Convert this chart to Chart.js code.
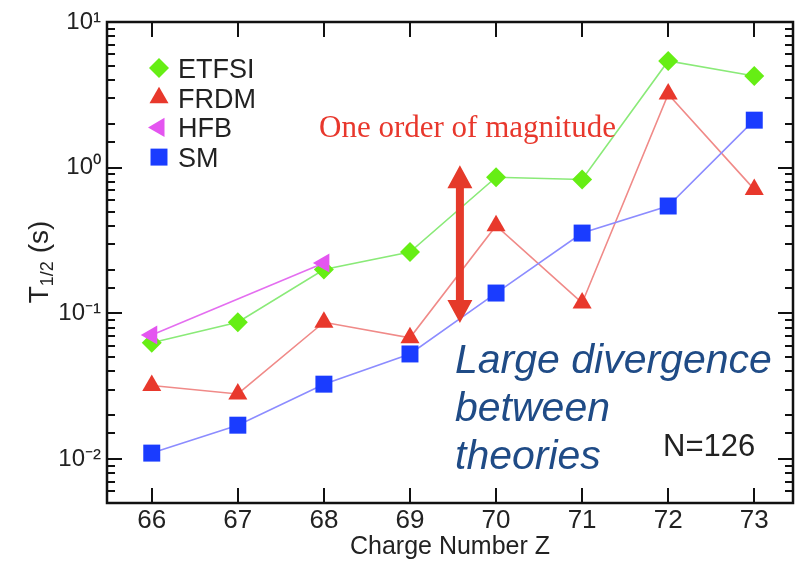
<!DOCTYPE html>
<html>
<head>
<meta charset="utf-8">
<script src="https://cdn.jsdelivr.net/npm/chart.js@4.4.1/dist/chart.umd.min.js"></script>
<style>
  html, body { margin: 0; padding: 0; background: #fff; }
  #wrap { width: 805px; height: 566px; }
</style>
</head>
<body>
<div id="wrap"><canvas id="halfLife" width="805" height="566"></canvas></div>
<script>
// N=126 isotones, charge number Z on the x axis
const chargeZ = [66, 67, 68, 69, 70, 71, 72, 73];
// T1/2 in seconds for each model
const etfsi = [0.063, 0.087, 0.20, 0.264, 0.86, 0.83, 5.4, 4.26];
const frdm  = [0.032, 0.028, 0.087, 0.068, 0.40, 0.118, 3.2, 0.71];
const hfbZ  = [66, 68];
const hfb   = [0.071, 0.222];
const sm    = [0.011, 0.0171, 0.0327, 0.0527, 0.138, 0.356, 0.546, 2.12];

// decade labels for the log axis
const yDecadeExp = [-2, -1, 0, 1];
const yTickLabels = ['10⁻²', '10⁻¹', '10⁰', '10¹'];

// the red double arrow: one decade at Z ~ 69.6
const arrowZ = 69.58;
const arrowTop = 1.04;
const arrowBottom = 0.086;

const SANS = "'Liberation Sans', Arial, sans-serif";
const SERIF = "'Liberation Serif', 'Times New Roman', serif";

function pts(xs, ys) {
  return xs.map((x, i) => ({ x: x, y: ys[i] }));
}

function isDecade(v) {
  const e = Math.log10(v);
  return Math.abs(e - Math.round(e)) < 1e-6;
}

// box frame with inward ticks on all four sides
const framePlugin = {
  id: 'frame',
  afterDatasetsDraw(chart) {
    const { ctx, chartArea: a, scales } = chart;
    const x = scales.x, y = scales.y;
    ctx.save();
    ctx.strokeStyle = '#111';
    ctx.lineWidth = 2;
    ctx.beginPath();
    y.ticks.forEach(t => {
      const py = Math.round(y.getPixelForValue(t.value));
      const len = isDecade(t.value) ? 15 : 8;
      ctx.moveTo(a.left, py); ctx.lineTo(a.left + len, py);
      ctx.moveTo(a.right, py); ctx.lineTo(a.right - len, py);
    });
    x.ticks.forEach(t => {
      const px = Math.round(x.getPixelForValue(t.value));
      ctx.moveTo(px, a.bottom); ctx.lineTo(px, a.bottom - 15);
      ctx.moveTo(px, a.top); ctx.lineTo(px, a.top + 15);
    });
    ctx.stroke();
    ctx.lineWidth = 2.5;
    ctx.strokeRect(a.left, a.top, a.right - a.left, a.bottom - a.top);
    ctx.restore();
  }
};

// y title with subscript, legend, arrow and text notes
const notesPlugin = {
  id: 'notes',
  afterDraw(chart) {
    const { ctx, scales } = chart;
    ctx.save();

    // T_1/2 (s)
    const big = '28px ' + SANS, small = '18px ' + SANS;
    ctx.font = big; const wT = ctx.measureText('T').width; const wS = ctx.measureText(' (s)').width;
    ctx.font = small; const wSub = ctx.measureText('1/2').width;
    const total = wT + wSub + wS;
    ctx.translate(48, 262 + total / 2);
    ctx.rotate(-Math.PI / 2);
    ctx.fillStyle = '#222';
    ctx.textBaseline = 'alphabetic';
    ctx.font = big; ctx.fillText('T', 0, 0);
    ctx.font = small; ctx.fillText('1/2', wT, 5);
    ctx.font = big; ctx.fillText(' (s)', wT + wSub, 0);
    ctx.setTransform(1, 0, 0, 1, 0, 0);

    // legend
    const dsets = chart.data.datasets;
    dsets.forEach((ds, i) => {
      const base = 78 + i * 29.7;
      ctx.fillStyle = ds.pointBackgroundColor;
      ctx.strokeStyle = ds.pointBorderColor;
      Chart.helpers.drawPoint(ctx, {
        pointStyle: ds.pointStyle, rotation: ds.pointRotation || 0,
        radius: ds.pointRadius, borderWidth: 0
      }, 159, base - 10);
      ctx.fillStyle = '#222';
      ctx.font = '27px ' + SANS;
      ctx.textAlign = 'left';
      ctx.fillText(ds.label, 178, base);
    });

    // one order of magnitude arrow
    const ax = scales.x.getPixelForValue(arrowZ);
    const y0 = scales.y.getPixelForValue(arrowTop);
    const y1 = scales.y.getPixelForValue(arrowBottom);
    const hw = 12.5, hh = 23;
    ctx.fillStyle = '#e53a2a';
    ctx.fillRect(ax - 4, y0 + hh - 1, 8, (y1 - y0) - 2 * hh + 2);
    ctx.beginPath();
    ctx.moveTo(ax, y0); ctx.lineTo(ax + hw, y0 + hh); ctx.lineTo(ax - hw, y0 + hh); ctx.closePath();
    ctx.moveTo(ax, y1); ctx.lineTo(ax + hw, y1 - hh); ctx.lineTo(ax - hw, y1 - hh); ctx.closePath();
    ctx.fill();

    ctx.font = '31px ' + SERIF;
    ctx.fillStyle = '#e8372c';
    ctx.fillText('One order of magnitude', 319, 137);

    ctx.font = 'italic 41px ' + SANS;
    ctx.fillStyle = '#1f4b86';
    ctx.fillText('Large divergence', 455, 373);
    ctx.fillText('between', 455, 421);
    ctx.fillText('theories', 455, 469);

    ctx.font = '31px ' + SANS;
    ctx.fillStyle = '#222';
    ctx.fillText('N=126', 663, 456);
    ctx.restore();
  }
};

const ctx = document.getElementById('halfLife').getContext('2d');
const halfLifeChart = new Chart(ctx, {
  type: 'line',
  data: {
    datasets: [{
      label: 'ETFSI',
      data: pts(chargeZ, etfsi),
      borderColor: '#8aea78',
      pointBackgroundColor: '#66ee14',
      pointBorderColor: '#66ee14',
      pointStyle: 'rectRot',
      pointRadius: 10,
      order: 3
    }, {
      label: 'FRDM',
      data: pts(chargeZ, frdm),
      borderColor: '#f08a88',
      pointBackgroundColor: '#e8382c',
      pointBorderColor: '#e8382c',
      pointStyle: 'triangle',
      pointRadius: 11,
      order: 2
    }, {
      label: 'HFB',
      data: pts(hfbZ, hfb),
      borderColor: '#e46ef0',
      pointBackgroundColor: '#e455f0',
      pointBorderColor: '#e455f0',
      pointStyle: 'triangle',
      pointRotation: -90,
      pointRadius: 11,
      order: 0
    }, {
      label: 'SM',
      data: pts(chargeZ, sm),
      borderColor: '#8c8cff',
      pointBackgroundColor: '#1a3cff',
      pointBorderColor: '#1a3cff',
      pointStyle: 'rect',
      pointRadius: 12,
      order: 1
    }]
  },
  options: {
    responsive: false,
    animation: false,
    devicePixelRatio: 1,
    events: [],
    datasets: {
      line: { borderWidth: 1.6, pointBorderWidth: 0, fill: false, tension: 0, clip: false }
    },
    layout: { padding: { left: 0, top: 22, right: 4, bottom: 0 } },
    plugins: { legend: { display: false }, tooltip: { enabled: false } },
    scales: {
      x: {
        type: 'linear',
        min: 65.48,
        max: 73.45,
        afterBuildTicks: s => { s.ticks = chargeZ.map(v => ({ value: v })); },
        afterFit: s => { s.height = 63; },
        grid: { display: false, drawTicks: false },
        border: { display: false },
        ticks: { font: { family: SANS, size: 26 }, color: '#222', padding: 2, maxRotation: 0, autoSkip: false },
        title: { display: true, text: 'Charge Number Z', font: { family: SANS, size: 25 }, color: '#222', padding: { top: 0, bottom: 4 } }
      },
      y: {
        type: 'logarithmic',
        min: 0.005,
        max: 10,
        afterFit: s => { s.width = 107; },
        grid: { display: false, drawTicks: false },
        border: { display: false },
        ticks: {
          font: { family: SANS, size: 24 },
          color: '#222',
          padding: 6,
          autoSkip: false,
          callback: v => {
            if (!isDecade(v)) return '';
            const i = yDecadeExp.indexOf(Math.round(Math.log10(v)));
            return i >= 0 ? yTickLabels[i] : '';
          }
        }
      }
    }
  },
  plugins: [framePlugin, notesPlugin]
});
</script>
</body>
</html>
